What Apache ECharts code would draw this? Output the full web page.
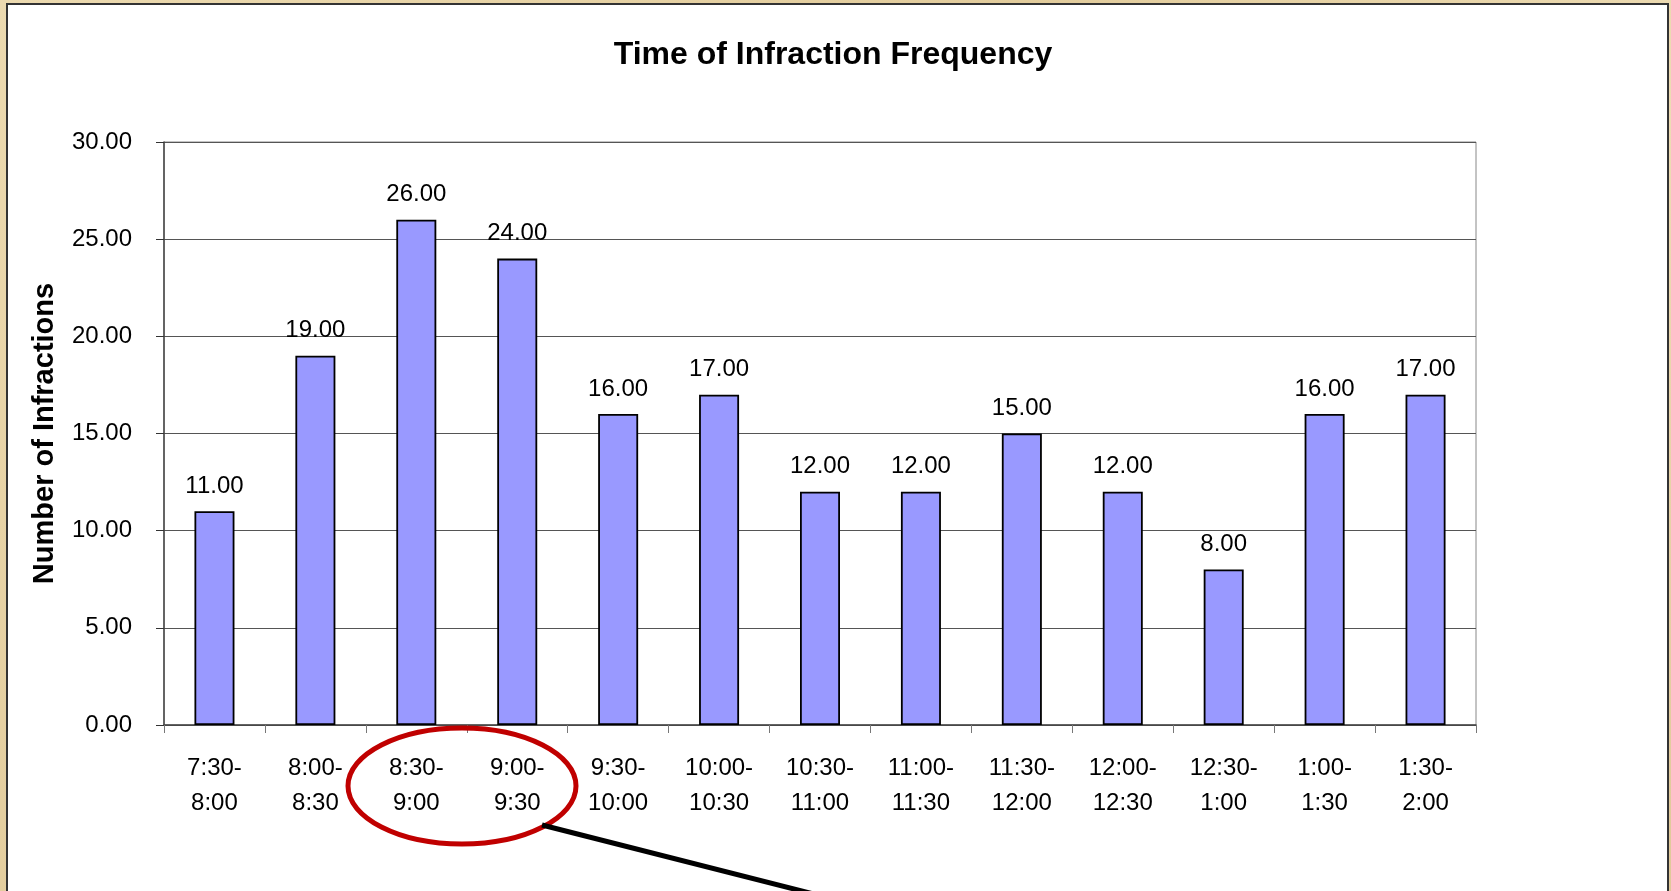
<!DOCTYPE html>
<html>
<head>
<meta charset="utf-8">
<title>Time of Infraction Frequency</title>
<script src="https://cdn.jsdelivr.net/npm/echarts@6/dist/echarts.min.js"></script>
<style>
html,body{
  margin:0;
  padding:0;
  width:1671px;
  height:891px;
  overflow:hidden;
  background:linear-gradient(135deg,#ecdab0,#e2cc9c 40%,#eddcb4 70%,#e0c999);
}
.panel{
  position:absolute;
  left:6px;
  top:3px;
  width:1659px;
  height:900px;
  background:#fff;
  border:2px solid #333;
}
#chart{
  position:absolute;
  left:0;
  top:0;
  width:1671px;
  height:891px;
}
</style>
</head>
<body>
<div class="panel"></div>
<div id="chart"></div>
<script>
// time slots (two-line labels like the original)
var timeSlots = ['7:30-\n8:00','8:00-\n8:30','8:30-\n9:00','9:00-\n9:30','9:30-\n10:00','10:00-\n10:30',
  '10:30-\n11:00','11:00-\n11:30','11:30-\n12:00','12:00-\n12:30','12:30-\n1:00','1:00-\n1:30','1:30-\n2:00']
var infractions = [11, 19, 26, 24, 16, 17, 12, 12, 15, 12, 8, 16, 17]
var yTicks = {min:0, max:30, interval:5}

var font = '"Liberation Sans", Arial, sans-serif'
var chart = echarts.init(document.getElementById('chart'))

chart.setOption({
  backgroundColor:'transparent',
  animation:false,
  title:{
    text:'Time of Infraction Frequency',
    left:828,
    top:34,
    textAlign:'center',
    textStyle:{fontFamily:font, fontSize:32, fontWeight:'bold', color:'#000'}
  },
  grid:{
    left:164,
    right:195,
    top:142,
    bottom:166,
    show:true,
    borderColor:'#888',
    borderWidth:1,
    backgroundColor:'transparent'
  },
  xAxis:{
    type:'category',
    data:timeSlots,
    axisLine:{lineStyle:{color:'#444', width:1.5}},
    axisTick:{show:true, length:8, lineStyle:{color:'#777'}},
    axisLabel:{fontFamily:font, fontSize:24, color:'#000', lineHeight:35, margin:26, interval:0}
  },
  yAxis:{
    type:'value',
    min:yTicks.min,
    max:yTicks.max,
    interval:yTicks.interval,
    name:'Number of Infractions',
    nameLocation:'middle',
    nameRotate:90,
    nameGap:105,
    nameTextStyle:{fontFamily:font, fontSize:29, fontWeight:'bold', color:'#000'},
    axisLine:{show:true, lineStyle:{color:'#444', width:1.5}},
    axisTick:{show:true, length:8, lineStyle:{color:'#333'}},
    axisLabel:{fontFamily:font, fontSize:24, color:'#000', margin:32,
      formatter:function(v){ return v.toFixed(2) }},
    splitLine:{lineStyle:{color:'#555', width:1}}
  },
  series:[{
    type:'bar',
    data:infractions,
    barWidth:40,
    itemStyle:{color:'#9999ff', borderColor:'#000', borderWidth:1.8},
    label:{
      show:true,
      position:'top',
      distance:13,
      fontFamily:font,
      fontSize:24,
      color:'#000',
      formatter:function(p){ return p.value.toFixed(2) }
    }
  }],
  graphic:[
    {
      type:'ellipse',
      z:100,
      shape:{cx:462, cy:786, rx:114, ry:58},
      style:{fill:null, stroke:'#c00000', lineWidth:5}
    },
    {
      type:'line',
      z:100,
      shape:{x1:542, y1:825, x2:920, y2:921},
      style:{stroke:'#000', lineWidth:5}
    }
  ]
})
</script>
</body>
</html>
